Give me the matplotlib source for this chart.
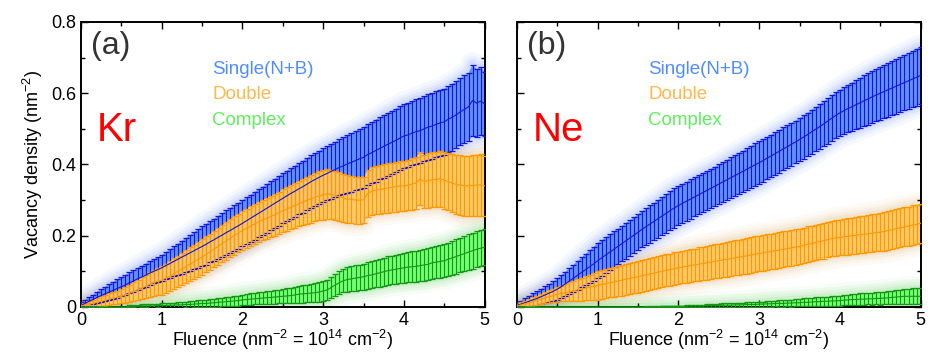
import matplotlib.pyplot as plt
import numpy as np
from matplotlib.ticker import MultipleLocator

plt.rcParams['font.family'] = ['Liberation Sans', 'DejaVu Sans']
plt.rcParams['mathtext.fontset'] = 'custom'
plt.rcParams['mathtext.rm'] = 'Liberation Sans'

# fluence grid, 0.05 nm^-2 steps
fluence = np.round(np.arange(101) * 0.05, 2)

# ---- Kr ----
kr_single = [
    0.005, 0.010, 0.016, 0.021, 0.027, 0.032, 0.037, 0.042, 0.047, 0.052,
    0.057, 0.062, 0.068, 0.073, 0.079, 0.084, 0.089, 0.095, 0.100, 0.105,
    0.110, 0.116, 0.122, 0.128, 0.134, 0.140, 0.146, 0.152, 0.158, 0.164,
    0.170, 0.176, 0.183, 0.189, 0.196, 0.202, 0.209, 0.215, 0.222, 0.228,
    0.235, 0.242, 0.249, 0.256, 0.263, 0.270, 0.277, 0.284, 0.291, 0.298,
    0.305, 0.312, 0.319, 0.325, 0.332, 0.338, 0.345, 0.352, 0.358, 0.364,
    0.370, 0.375, 0.381, 0.386, 0.392, 0.396, 0.402, 0.406, 0.411, 0.416,
    0.420, 0.428, 0.433, 0.439, 0.445, 0.451, 0.457, 0.462, 0.468, 0.474,
    0.480, 0.483, 0.488, 0.492, 0.495, 0.500, 0.505, 0.508, 0.513, 0.517,
    0.520, 0.527, 0.533, 0.540, 0.548, 0.555, 0.562, 0.580, 0.572, 0.578,
    0.570]
kr_single_err = [
    0.008, 0.010, 0.012, 0.014, 0.016, 0.018, 0.020, 0.022, 0.024, 0.026,
    0.027, 0.028, 0.029, 0.030, 0.031, 0.032, 0.033, 0.034, 0.034, 0.035,
    0.036, 0.038, 0.040, 0.042, 0.044, 0.046, 0.048, 0.050, 0.052, 0.054,
    0.056, 0.057, 0.058, 0.059, 0.060, 0.061, 0.062, 0.063, 0.064, 0.065,
    0.065, 0.066, 0.066, 0.067, 0.067, 0.068, 0.068, 0.069, 0.069, 0.070,
    0.070, 0.071, 0.071, 0.072, 0.072, 0.073, 0.073, 0.074, 0.074, 0.075,
    0.075, 0.076, 0.077, 0.078, 0.079, 0.080, 0.081, 0.082, 0.083, 0.084,
    0.085, 0.086, 0.086, 0.087, 0.087, 0.088, 0.088, 0.089, 0.089, 0.090,
    0.090, 0.090, 0.090, 0.091, 0.091, 0.091, 0.092, 0.092, 0.092, 0.093,
    0.093, 0.093, 0.094, 0.094, 0.094, 0.095, 0.095, 0.100, 0.096, 0.096,
    0.090]
kr_double = [
    0.003, 0.005, 0.008, 0.010, 0.013, 0.016, 0.019, 0.022, 0.025, 0.027,
    0.030, 0.034, 0.038, 0.043, 0.048, 0.053, 0.058, 0.063, 0.068, 0.072,
    0.075, 0.081, 0.087, 0.094, 0.100, 0.107, 0.113, 0.120, 0.127, 0.134,
    0.140, 0.148, 0.155, 0.163, 0.170, 0.178, 0.186, 0.193, 0.201, 0.208,
    0.215, 0.221, 0.227, 0.233, 0.239, 0.244, 0.249, 0.254, 0.259, 0.265,
    0.270, 0.275, 0.280, 0.285, 0.290, 0.295, 0.299, 0.304, 0.308, 0.312,
    0.315, 0.318, 0.316, 0.313, 0.310, 0.306, 0.303, 0.302, 0.300, 0.300,
    0.301, 0.318, 0.325, 0.328, 0.330, 0.332, 0.334, 0.336, 0.338, 0.340,
    0.340, 0.342, 0.345, 0.348, 0.360, 0.352, 0.355, 0.357, 0.358, 0.360,
    0.356, 0.352, 0.348, 0.344, 0.342, 0.340, 0.340, 0.341, 0.342, 0.343,
    0.340]
kr_double_err = [
    0.005, 0.007, 0.009, 0.011, 0.012, 0.014, 0.015, 0.017, 0.018, 0.019,
    0.020, 0.022, 0.024, 0.026, 0.028, 0.030, 0.032, 0.034, 0.036, 0.038,
    0.040, 0.041, 0.042, 0.043, 0.044, 0.045, 0.046, 0.047, 0.048, 0.049,
    0.050, 0.050, 0.051, 0.051, 0.052, 0.052, 0.053, 0.053, 0.054, 0.054,
    0.055, 0.055, 0.056, 0.056, 0.057, 0.057, 0.058, 0.058, 0.059, 0.059,
    0.060, 0.061, 0.062, 0.063, 0.064, 0.065, 0.066, 0.067, 0.068, 0.069,
    0.070, 0.070, 0.069, 0.069, 0.068, 0.068, 0.067, 0.067, 0.066, 0.066,
    0.065, 0.066, 0.067, 0.067, 0.068, 0.068, 0.069, 0.069, 0.070, 0.070,
    0.070, 0.071, 0.072, 0.073, 0.074, 0.075, 0.076, 0.077, 0.078, 0.079,
    0.080, 0.081, 0.082, 0.083, 0.084, 0.085, 0.085, 0.086, 0.086, 0.087,
    0.085]
kr_complex = [
    0.0, 0.0, 0.0, 0.0, 0.0, 0.0, 0.0, 0.0, 0.0, 0.0,
    0.0, 0.0, 0.002, 0.002, 0.002, 0.003, 0.003, 0.003, 0.003, 0.004,
    0.004, 0.004, 0.005, 0.005, 0.006, 0.006, 0.007, 0.007, 0.008, 0.009,
    0.010, 0.010, 0.011, 0.012, 0.013, 0.014, 0.015, 0.016, 0.017, 0.018,
    0.020, 0.021, 0.022, 0.023, 0.024, 0.025, 0.026, 0.027, 0.028, 0.029,
    0.030, 0.031, 0.032, 0.034, 0.036, 0.037, 0.038, 0.039, 0.040, 0.042,
    0.045, 0.048, 0.055, 0.062, 0.068, 0.074, 0.077, 0.079, 0.081, 0.083,
    0.085, 0.088, 0.090, 0.093, 0.096, 0.099, 0.102, 0.104, 0.106, 0.108,
    0.110, 0.112, 0.113, 0.114, 0.116, 0.118, 0.120, 0.124, 0.126, 0.128,
    0.130, 0.134, 0.138, 0.142, 0.146, 0.150, 0.154, 0.158, 0.162, 0.165,
    0.168]
kr_complex_err = [
    0.0, 0.0, 0.0, 0.0, 0.0, 0.0, 0.0, 0.0, 0.0, 0.0,
    0.0, 0.0, 0.003, 0.003, 0.004, 0.004, 0.004, 0.005, 0.005, 0.005,
    0.006, 0.006, 0.007, 0.007, 0.008, 0.008, 0.008, 0.009, 0.009, 0.010,
    0.010, 0.010, 0.011, 0.011, 0.012, 0.012, 0.013, 0.013, 0.014, 0.014,
    0.015, 0.015, 0.016, 0.016, 0.017, 0.017, 0.018, 0.018, 0.019, 0.019,
    0.020, 0.021, 0.022, 0.023, 0.024, 0.025, 0.025, 0.026, 0.027, 0.028,
    0.028, 0.029, 0.030, 0.031, 0.032, 0.033, 0.034, 0.035, 0.036, 0.036,
    0.037, 0.037, 0.038, 0.038, 0.039, 0.039, 0.040, 0.040, 0.041, 0.041,
    0.042, 0.042, 0.043, 0.043, 0.044, 0.044, 0.045, 0.045, 0.046, 0.046,
    0.047, 0.047, 0.048, 0.048, 0.049, 0.049, 0.050, 0.050, 0.050, 0.050,
    0.050]

# ---- Ne ----
ne_single = [
    0.005, 0.008, 0.012, 0.016, 0.020, 0.024, 0.029, 0.034, 0.039, 0.044,
    0.050, 0.057, 0.065, 0.073, 0.081, 0.089, 0.097, 0.105, 0.113, 0.121,
    0.130, 0.138, 0.146, 0.154, 0.162, 0.170, 0.178, 0.186, 0.194, 0.202,
    0.210, 0.218, 0.226, 0.233, 0.241, 0.248, 0.256, 0.263, 0.271, 0.278,
    0.285, 0.291, 0.297, 0.303, 0.309, 0.315, 0.321, 0.327, 0.333, 0.339,
    0.345, 0.351, 0.357, 0.363, 0.369, 0.375, 0.381, 0.387, 0.393, 0.399,
    0.405, 0.411, 0.418, 0.424, 0.431, 0.437, 0.444, 0.450, 0.457, 0.463,
    0.470, 0.477, 0.484, 0.492, 0.499, 0.506, 0.514, 0.522, 0.530, 0.538,
    0.545, 0.551, 0.557, 0.562, 0.568, 0.573, 0.579, 0.584, 0.590, 0.595,
    0.600, 0.605, 0.610, 0.615, 0.620, 0.625, 0.630, 0.635, 0.640, 0.645,
    0.650]
ne_single_err = [
    0.008, 0.010, 0.013, 0.015, 0.018, 0.020, 0.022, 0.024, 0.026, 0.028,
    0.030, 0.032, 0.034, 0.036, 0.038, 0.040, 0.042, 0.044, 0.046, 0.048,
    0.050, 0.050, 0.050, 0.050, 0.050, 0.050, 0.050, 0.050, 0.050, 0.050,
    0.050, 0.051, 0.051, 0.052, 0.052, 0.053, 0.053, 0.054, 0.054, 0.055,
    0.055, 0.055, 0.055, 0.055, 0.055, 0.055, 0.055, 0.055, 0.055, 0.055,
    0.055, 0.056, 0.056, 0.057, 0.057, 0.058, 0.058, 0.059, 0.059, 0.060,
    0.060, 0.060, 0.060, 0.060, 0.060, 0.060, 0.060, 0.060, 0.060, 0.060,
    0.060, 0.061, 0.061, 0.062, 0.062, 0.063, 0.063, 0.064, 0.064, 0.065,
    0.065, 0.066, 0.067, 0.068, 0.069, 0.070, 0.071, 0.072, 0.073, 0.074,
    0.075, 0.075, 0.076, 0.076, 0.077, 0.077, 0.078, 0.078, 0.079, 0.080,
    0.080]
ne_double = [
    0.003, 0.006, 0.009, 0.012, 0.015, 0.019, 0.022, 0.026, 0.029, 0.032,
    0.035, 0.038, 0.040, 0.043, 0.045, 0.048, 0.050, 0.053, 0.055, 0.058,
    0.060, 0.063, 0.065, 0.068, 0.070, 0.073, 0.075, 0.078, 0.080, 0.083,
    0.085, 0.088, 0.090, 0.093, 0.095, 0.098, 0.100, 0.103, 0.105, 0.108,
    0.110, 0.112, 0.114, 0.116, 0.118, 0.120, 0.122, 0.124, 0.126, 0.128,
    0.130, 0.132, 0.134, 0.136, 0.138, 0.140, 0.142, 0.144, 0.146, 0.148,
    0.150, 0.152, 0.154, 0.156, 0.158, 0.160, 0.162, 0.164, 0.166, 0.168,
    0.170, 0.173, 0.176, 0.178, 0.181, 0.184, 0.186, 0.189, 0.192, 0.194,
    0.195, 0.197, 0.198, 0.200, 0.201, 0.203, 0.204, 0.206, 0.207, 0.209,
    0.210, 0.212, 0.215, 0.217, 0.220, 0.222, 0.225, 0.227, 0.230, 0.232,
    0.235]
ne_double_err = [
    0.005, 0.007, 0.009, 0.010, 0.012, 0.013, 0.015, 0.016, 0.018, 0.019,
    0.020, 0.022, 0.024, 0.026, 0.028, 0.030, 0.032, 0.034, 0.036, 0.038,
    0.040, 0.040, 0.041, 0.041, 0.042, 0.042, 0.043, 0.043, 0.044, 0.044,
    0.045, 0.045, 0.045, 0.045, 0.045, 0.045, 0.045, 0.045, 0.045, 0.045,
    0.045, 0.045, 0.046, 0.046, 0.046, 0.047, 0.047, 0.047, 0.048, 0.048,
    0.048, 0.048, 0.049, 0.049, 0.049, 0.049, 0.050, 0.050, 0.050, 0.050,
    0.050, 0.050, 0.050, 0.050, 0.050, 0.050, 0.050, 0.050, 0.050, 0.050,
    0.050, 0.050, 0.050, 0.050, 0.050, 0.050, 0.050, 0.050, 0.050, 0.050,
    0.050, 0.051, 0.051, 0.051, 0.052, 0.052, 0.052, 0.053, 0.053, 0.053,
    0.054, 0.054, 0.054, 0.055, 0.055, 0.055, 0.055, 0.055, 0.055, 0.055,
    0.055]
ne_complex = [
    0.0, 0.0, 0.0, 0.0, 0.0, 0.0, 0.0, 0.0, 0.0, 0.0,
    0.0, 0.0, 0.0, 0.0, 0.0, 0.0, 0.0, 0.0, 0.0, 0.0,
    0.0, 0.0, 0.0, 0.0, 0.0, 0.0, 0.0, 0.0, 0.0, 0.0,
    0.0, 0.0, 0.001, 0.001, 0.001, 0.001, 0.002, 0.002, 0.002, 0.002,
    0.002, 0.002, 0.003, 0.003, 0.003, 0.003, 0.003, 0.004, 0.004, 0.004,
    0.004, 0.005, 0.005, 0.005, 0.006, 0.006, 0.006, 0.007, 0.007, 0.007,
    0.008, 0.008, 0.009, 0.009, 0.010, 0.010, 0.010, 0.011, 0.011, 0.012,
    0.012, 0.013, 0.013, 0.014, 0.015, 0.015, 0.016, 0.016, 0.017, 0.017,
    0.018, 0.019, 0.020, 0.021, 0.021, 0.022, 0.022, 0.023, 0.023, 0.024,
    0.024, 0.025, 0.026, 0.027, 0.028, 0.029, 0.030, 0.030, 0.030, 0.030,
    0.030]
ne_complex_err = [
    0.0, 0.0, 0.0, 0.0, 0.0, 0.0, 0.0, 0.0, 0.0, 0.0,
    0.0, 0.0, 0.0, 0.0, 0.0, 0.0, 0.0, 0.0, 0.0, 0.0,
    0.0, 0.0, 0.0, 0.0, 0.0, 0.0, 0.0, 0.0, 0.0, 0.0,
    0.0, 0.0, 0.001, 0.001, 0.001, 0.001, 0.001, 0.001, 0.001, 0.001,
    0.002, 0.002, 0.002, 0.003, 0.003, 0.003, 0.003, 0.004, 0.004, 0.004,
    0.004, 0.005, 0.005, 0.005, 0.005, 0.006, 0.006, 0.006, 0.006, 0.007,
    0.007, 0.007, 0.008, 0.008, 0.008, 0.009, 0.009, 0.009, 0.010, 0.010,
    0.010, 0.011, 0.011, 0.011, 0.012, 0.012, 0.012, 0.013, 0.013, 0.013,
    0.014, 0.014, 0.015, 0.015, 0.015, 0.016, 0.016, 0.016, 0.017, 0.017,
    0.018, 0.018, 0.019, 0.019, 0.020, 0.020, 0.021, 0.021, 0.022, 0.022,
    0.022]

labels = ['Single(N+B)', 'Double', 'Complex']
bar_colors = ['#1414dc', '#ff9800', '#169416']
fill_colors = ['#6090ff', '#ffc866', '#72ff72']
glow_colors = ['#5c88ff', '#d8a860', '#5ad05a']
label_colors = ['#4f8dff', '#ffb84a', '#5cf05c']


def draw_band(ax, x, mean, err, bar_c, fill_c, glow_c):
    mean = np.asarray(mean)
    err = np.asarray(err)
    lo, hi = mean - err, mean + err
    # soft halo around the band
    for lw, a in ((18, 0.05), (13, 0.07), (9, 0.09), (5, 0.12)):
        ax.fill_between(x, lo, hi, facecolor='none', edgecolor=glow_c,
                        linewidth=lw, alpha=a, zorder=1)
    ax.fill_between(x, lo, hi, facecolor=fill_c, edgecolor='none', zorder=2)
    ax.errorbar(x, mean, yerr=err, color=bar_c, ecolor=bar_c, elinewidth=0.8,
                capsize=2.2, capthick=0.9, linewidth=0.8, zorder=3)


fig, axes = plt.subplots(1, 2, figsize=(9.29, 3.54), dpi=100)
fig.subplots_adjust(left=0.0872, right=0.991, bottom=0.1328, top=0.9379,
                    wspace=0.08)

panels = [
    ('(a)', 'Kr', [(kr_single, kr_single_err), (kr_double, kr_double_err),
                   (kr_complex, kr_complex_err)]),
    ('(b)', 'Ne', [(ne_single, ne_single_err), (ne_double, ne_double_err),
                   (ne_complex, ne_complex_err)]),
]

for i, (ax, (tag, ion, series)) in enumerate(zip(axes, panels)):
    for k, (m, e) in enumerate(series):
        draw_band(ax, fluence, m, e, bar_colors[k], fill_colors[k], glow_colors[k])

    ax.set_xlim(0, 5)
    ax.set_ylim(0, 0.8)
    ax.set_xticks([0, 1, 2, 3, 4, 5])
    ax.set_yticks([0, 0.2, 0.4, 0.6, 0.8])
    ax.xaxis.set_minor_locator(MultipleLocator(0.5))
    ax.yaxis.set_minor_locator(MultipleLocator(0.1))
    ax.tick_params(which='both', direction='in', top=True, right=True,
                   width=1.0, labelsize=13)
    ax.tick_params(which='major', length=5)
    ax.tick_params(which='minor', length=3)
    for s in ax.spines.values():
        s.set_linewidth(1.4)
    if i == 0:
        ax.set_yticklabels(['0', '0.2', '0.4', '0.6', '0.8'])
        ax.set_ylabel('Vacancy density (nm$^{-2}$)', fontsize=13, labelpad=4)
    else:
        ax.set_yticklabels([])
    ax.set_xticklabels(['0', '1', '2', '3', '4', '5'])
    ax.set_xlabel('Fluence (nm$^{-2}$ = 10$^{14}$ cm$^{-2}$)', fontsize=13,
                  labelpad=-1)

    ax.text(0.025, 0.915, tag, transform=ax.transAxes, fontsize=23,
            color='#333333', va='center', ha='left')
    ax.text(0.04, 0.62, ion, transform=ax.transAxes, fontsize=29,
            color='#ff0000', va='center', ha='left')
    for k, lab in enumerate(labels):
        ax.text(0.325, 0.835 - k * 0.09, lab, transform=ax.transAxes,
                fontsize=13.5, color=label_colors[k], va='center', ha='left')

fig.savefig('out.png', dpi=100)
